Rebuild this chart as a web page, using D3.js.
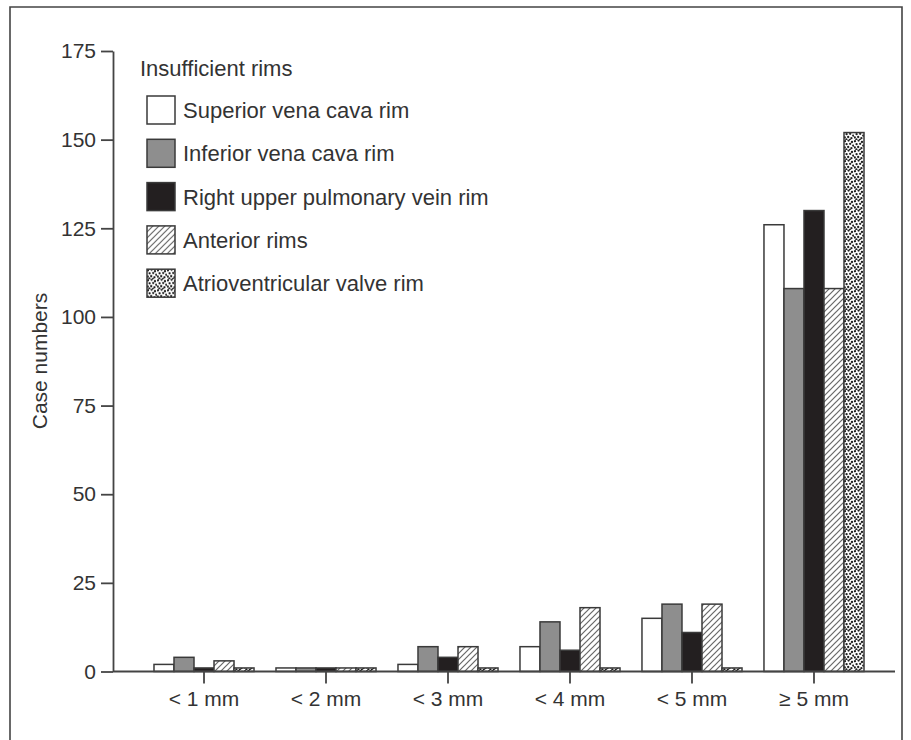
<!DOCTYPE html>
<html lang="en">
<head>
  <meta charset="UTF-8">
  <title>Insufficient rims</title>
  <style>
    body { margin: 0; background: #fff; }
    svg text { font-family: "Liberation Sans", Arial, sans-serif; fill: #333; }
  </style>
</head>
<body>
  <svg id="svg" width="911" height="740"></svg>

  <script src="https://d3js.org/d3.v7.min.js"></script>
  <script>
    // data
    const categories = ['< 1 mm', '< 2 mm', '< 3 mm', '< 4 mm', '< 5 mm', '≥ 5 mm']
    const seriesNames = ['Superior vena cava rim', 'Inferior vena cava rim', 'Right upper pulmonary vein rim', 'Anterior rims', 'Atrioventricular valve rim']
    const superiorVC = [2, 1, 2, 7, 15, 126]
    const inferiorVC = [4, 1, 7, 14, 19, 108]
    const rightUpperPV = [1, 1, 4, 6, 11, 130]
    const anterior = [3, 1, 7, 18, 19, 108]
    const atrioventricular = [1, 1, 1, 1, 1, 152]
    const yTicks = [0, 25, 50, 75, 100, 125, 150, 175]

    const values = [superiorVC, inferiorVC, rightUpperPV, anterior, atrioventricular]
    const fills = ['#fff', '#8e8e8e', '#231f20', 'url(#hatch)', 'url(#dots)']

    const svg = d3.select('#svg')

    // frame (cut off at the bottom like the scan)
    svg.append('path')
      .attr('d', 'M10,745 L10,7 L902,7 L902,745')
      .attr('fill', 'none')
      .attr('stroke', '#444')
      .attr('stroke-width', 1.6)

    // patterns
    const defs = svg.append('defs')
    const hatch = defs.append('pattern')
      .attr('id', 'hatch')
      .attr('patternUnits', 'userSpaceOnUse')
      .attr('width', 6).attr('height', 6)
    hatch.append('rect').attr('width', 6).attr('height', 6).attr('fill', '#fff')
    hatch.append('path')
      .attr('d', 'M-1,7 L7,-1 M-4,4 L4,-4 M2,10 L10,2')
      .attr('stroke', '#666')
      .attr('stroke-width', 1.2)

    const dots = defs.append('pattern')
      .attr('id', 'dots')
      .attr('patternUnits', 'userSpaceOnUse')
      .attr('width', 10).attr('height', 10)
    dots.append('rect').attr('width', 10).attr('height', 10).attr('fill', '#fff')
    const dotPos = [[1, 1.2], [4.6, 0.6], [8, 2], [2.6, 4.2], [6.2, 3.8], [9.2, 5.6],
      [0.8, 7.4], [4.2, 7], [7.4, 8.2], [2.4, 9.4], [5.8, 9.8]]
    dots.selectAll('circle')
      .data(dotPos)
      .join('circle')
      .attr('cx', d => d[0])
      .attr('cy', d => d[1])
      .attr('r', 1.15)
      .attr('fill', '#1e1e1e')

    // scales
    const x = d3.scaleBand()
      .domain(categories)
      .range([113, 905])
      .paddingInner(0.18)
      .paddingOuter(0.336)

    const x1 = d3.scaleBand()
      .domain(d3.range(seriesNames.length))
      .range([0, x.bandwidth()])

    const y = d3.scaleLinear()
      .domain([0, 175])
      .range([671.5, 51])

    // bars
    const groups = svg.selectAll('g.group')
      .data(categories)
      .join('g')
      .attr('class', 'group')
      .attr('transform', d => `translate(${x(d)},0)`)

    groups.selectAll('rect')
      .data((c, ci) => values.map((s, si) => ({ si: si, v: s[ci] })))
      .join('rect')
      .attr('x', d => x1(d.si))
      .attr('y', d => y(d.v))
      .attr('width', x1.bandwidth())
      .attr('height', d => y(0) - y(d.v))
      .attr('fill', d => fills[d.si])
      .attr('stroke', '#3a3a3a')
      .attr('stroke-width', 1.5)

    // y axis
    const yAxis = svg.append('g')
      .attr('transform', 'translate(113,0)')
      .call(d3.axisLeft(y).tickValues(yTicks).tickSize(12).tickPadding(5).tickSizeOuter(0))
    yAxis.selectAll('text').style('font-size', '21px').attr('fill', '#333')
    yAxis.selectAll('line, path').attr('stroke', '#444').attr('stroke-width', 1.8)

    // x axis
    const xAxis = svg.append('g')
      .attr('transform', `translate(0,${y(0)})`)
      .call(d3.axisBottom(x).tickSize(12).tickPadding(8).tickSizeOuter(0))
    xAxis.select('.domain').remove()
    xAxis.append('line')
      .attr('x1', 113).attr('x2', 895)
      .attr('stroke', '#444').attr('stroke-width', 1.8)
    xAxis.selectAll('line').attr('stroke', '#444').attr('stroke-width', 1.8)
    xAxis.selectAll('text').style('font-size', '21px').attr('fill', '#333')

    // axis title
    svg.append('text')
      .attr('transform', 'translate(47,361) rotate(-90)')
      .attr('text-anchor', 'middle')
      .style('font-size', '21px')
      .text('Case numbers')

    // legend
    const legend = svg.append('g')
    legend.append('text')
      .attr('x', 140).attr('y', 76)
      .style('font-size', '22px')
      .text('Insufficient rims')

    const items = legend.selectAll('g.item')
      .data(seriesNames)
      .join('g')
      .attr('class', 'item')
      .attr('transform', (d, i) => `translate(147,${96 + i * 43.3})`)
    items.append('rect')
      .attr('width', 28).attr('height', 28)
      .attr('fill', (d, i) => fills[i])
      .attr('stroke', '#3a3a3a')
      .attr('stroke-width', 1.5)
    items.append('text')
      .attr('x', 36).attr('y', 22)
      .style('font-size', '22px')
      .text(d => d)
  </script>
</body>
</html>
